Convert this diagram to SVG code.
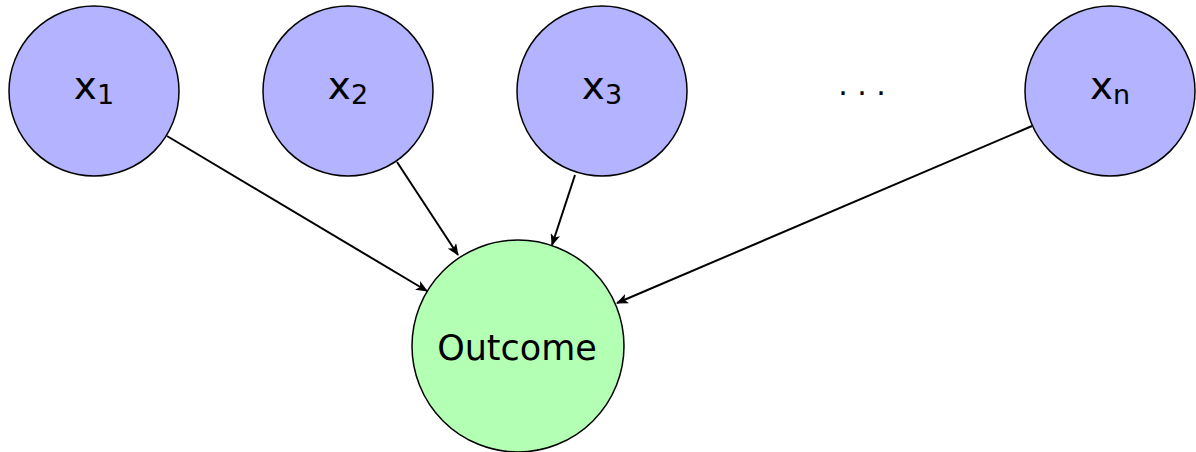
<svg xmlns="http://www.w3.org/2000/svg" width="1196" height="452" viewBox="0 0 1196 452">
<style>
.in{fill:#b3b3ff;stroke:#000;stroke-width:1.5}
.out{fill:#b3ffb3;stroke:#000;stroke-width:1.5}
.lbl{font-family:"DejaVu Sans",sans-serif;fill:#000;text-anchor:middle}
.x{font-size:39px}
.sub{font-size:27px}
.edge{stroke:#000;stroke-width:2;fill:none;marker-end:url(#ah)}
</style>
<defs>
<marker id="ah" viewBox="0 0 12 10" refX="11" refY="5" markerWidth="12" markerHeight="10" markerUnits="userSpaceOnUse" orient="auto">
<path d="M0,0 L12,5 L0,10 L3,5 Z" fill="#000"/>
</marker>
</defs>
<g id="connectors">
<line class="edge" x1="167" y1="136" x2="427" y2="291"/>
<line class="edge" x1="397" y1="162" x2="458" y2="255"/>
<line class="edge" x1="575" y1="175" x2="552" y2="245"/>
<line class="edge" x1="1032" y1="126" x2="617" y2="303"/>
</g>
<g id="x1"><circle class="in" cx="94" cy="91" r="85"/><text class="lbl" x="94" y="99"><tspan class="x">x</tspan><tspan class="sub" dy="5">1</tspan></text></g>
<g id="x2"><circle class="in" cx="348" cy="91" r="85"/><text class="lbl" x="348" y="99"><tspan class="x">x</tspan><tspan class="sub" dy="5">2</tspan></text></g>
<g id="x3"><circle class="in" cx="602" cy="91" r="85"/><text class="lbl" x="602" y="99"><tspan class="x">x</tspan><tspan class="sub" dy="5">3</tspan></text></g>
<g id="dots"><text class="lbl" x="862" y="95" style="font-size:30px">. . .</text></g>
<g id="xn"><circle class="in" cx="1110" cy="91" r="85"/><text class="lbl" x="1110" y="99"><tspan class="x">x</tspan><tspan class="sub" dy="5">n</tspan></text></g>
<g id="outcome"><circle class="out" cx="518" cy="346" r="106"/><text class="lbl" x="517" y="360" style="font-size:35px">Outcome</text></g>
</svg>
